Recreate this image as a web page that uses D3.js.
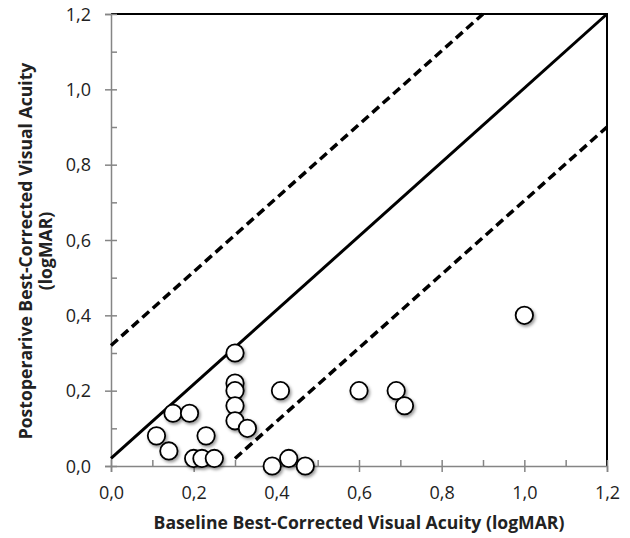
<!DOCTYPE html>
<html>
<head>
<meta charset="utf-8">
<script src="https://cdn.jsdelivr.net/npm/d3@7"></script>
<style>
  body { margin: 0; background: #fff; }
  text { font-family: "Open Sans", sans-serif; }
</style>
</head>
<body>
<div id="chart"></div>
<script>
// baseline vs postoperative BCVA (logMAR), one circle per eye
var baseline = [0.11, 0.14, 0.15, 0.19, 0.20, 0.22, 0.23, 0.25, 0.30, 0.30, 0.30, 0.30, 0.30, 0.33, 0.39, 0.43, 0.47, 0.41, 0.60, 0.69, 0.71, 1.00];
var postop   = [0.08, 0.04, 0.14, 0.14, 0.02, 0.02, 0.08, 0.02, 0.30, 0.22, 0.20, 0.16, 0.12, 0.10, 0.00, 0.02, 0.00, 0.20, 0.20, 0.20, 0.16, 0.40];

// reference lines: identity and +/- 0.3 logMAR
var solidLine = [[0, 0.02], [1.2, 1.2]];
var upperDash = [[0, 0.32], [0.9, 1.2]];
var lowerDash = [[0.3, 0.02], [1.2, 0.9]];

var majorTicks = [0, 0.2, 0.4, 0.6, 0.8, 1.0, 1.2];
var minorTicks = [0.1, 0.3, 0.5, 0.7, 0.9, 1.1];

var svgWidth = 630;
var svgHeight = 538;

var margin = { top: 14, right: 23, bottom: 72, left: 111 };
var width = svgWidth - margin.left - margin.right;
var height = svgHeight - margin.top - margin.bottom;

var svg = d3.select("#chart")
  .append("svg")
  .attr("width", svgWidth)
  .attr("height", svgHeight);

var defs = svg.append("defs");
var shadow = defs.append("filter")
  .attr("id", "shadow")
  .attr("x", "-50%").attr("y", "-50%")
  .attr("width", "200%").attr("height", "200%");
shadow.append("feDropShadow")
  .attr("dx", 1.5).attr("dy", 2)
  .attr("stdDeviation", 1.8)
  .attr("flood-color", "#000")
  .attr("flood-opacity", 0.4);

var chartGroup = svg.append("g")
  .attr("transform", `translate(${margin.left}, ${margin.top})`);

var x = d3.scaleLinear().domain([0, 1.2]).range([0, width]);
var y = d3.scaleLinear().domain([0, 1.2]).range([height, 0]);

var fmt = d => d3.format(".1f")(d).replace(".", ",");

// top and right frame
chartGroup.append("path")
  .attr("d", `M0,0H${width}V${height}`)
  .attr("fill", "none")
  .attr("stroke", "#000")
  .attr("stroke-width", 2);

// x axis: major ticks cross the line, minor ticks point inside
var xAxisG = chartGroup.append("g")
  .attr("transform", `translate(0, ${height})`);
xAxisG.append("g")
  .call(d3.axisBottom(x).tickValues(majorTicks).tickSize(6).tickFormat(fmt))
  .call(g => g.selectAll(".tick line").attr("y1", -6));
xAxisG.append("g")
  .call(d3.axisBottom(x).tickValues(minorTicks).tickSize(-6).tickFormat(""))
  .call(g => g.select(".domain").remove());

var yAxisG = chartGroup.append("g");
yAxisG.append("g")
  .call(d3.axisLeft(y).tickValues(majorTicks).tickSize(6).tickFormat(fmt))
  .call(g => g.selectAll(".tick line").attr("x1", 6));
yAxisG.append("g")
  .call(d3.axisLeft(y).tickValues(minorTicks).tickSize(-6).tickFormat(""))
  .call(g => g.select(".domain").remove());

chartGroup.selectAll(".domain, .tick line")
  .attr("stroke", "#858585")
  .attr("stroke-width", 1.5);

xAxisG.selectAll(".tick text")
  .attr("dy", "0")
  .attr("y", 33)
  .style("font-size", "18px")
  .style("font-family", "Open Sans")
  .attr("fill", "#222");

yAxisG.selectAll(".tick text")
  .attr("x", -20)
  .attr("dy", "0.35em")
  .style("font-size", "18px")
  .style("font-family", "Open Sans")
  .attr("fill", "#222");

// reference lines
var line = d3.line().x(d => x(d[0])).y(d => y(d[1]));

chartGroup.append("path")
  .datum(solidLine)
  .attr("d", line)
  .attr("fill", "none")
  .attr("stroke", "#000")
  .attr("stroke-width", 3);

chartGroup.selectAll(".dash")
  .data([upperDash, lowerDash])
  .enter()
  .append("path")
  .attr("class", "dash")
  .attr("d", line)
  .attr("fill", "none")
  .attr("stroke", "#000")
  .attr("stroke-width", 3.5)
  .attr("stroke-dasharray", "9,5");

// data points
chartGroup.selectAll("circle")
  .data(baseline.map((b, i) => ({ x: b, y: postop[i] })))
  .enter()
  .append("circle")
  .attr("cx", d => x(d.x))
  .attr("cy", d => y(d.y))
  .attr("r", 8.7)
  .attr("fill", "#fff")
  .attr("stroke", "#000")
  .attr("stroke-width", 1.8)
  .attr("filter", "url(#shadow)");

// axis titles
chartGroup.append("text")
  .attr("x", width / 2)
  .attr("y", height + 63)
  .attr("text-anchor", "middle")
  .style("font-size", "17.6px")
  .style("font-weight", "bold")
  .attr("fill", "#222")
  .text("Baseline Best-Corrected Visual Acuity (logMAR)");

var yTitle = chartGroup.append("text")
  .attr("transform", `translate(${-margin.left + 32}, ${height / 2 + 11}) rotate(-90)`)
  .attr("text-anchor", "middle")
  .style("font-size", "17.6px")
  .style("font-weight", "bold")
  .attr("fill", "#222");
yTitle.append("tspan")
  .attr("x", 0).attr("y", 0)
  .text("Postoperarive Best-Corrected Visual Acuity");
yTitle.append("tspan")
  .attr("x", 0).attr("y", 20)
  .text("(logMAR)");
</script>
</body>
</html>
